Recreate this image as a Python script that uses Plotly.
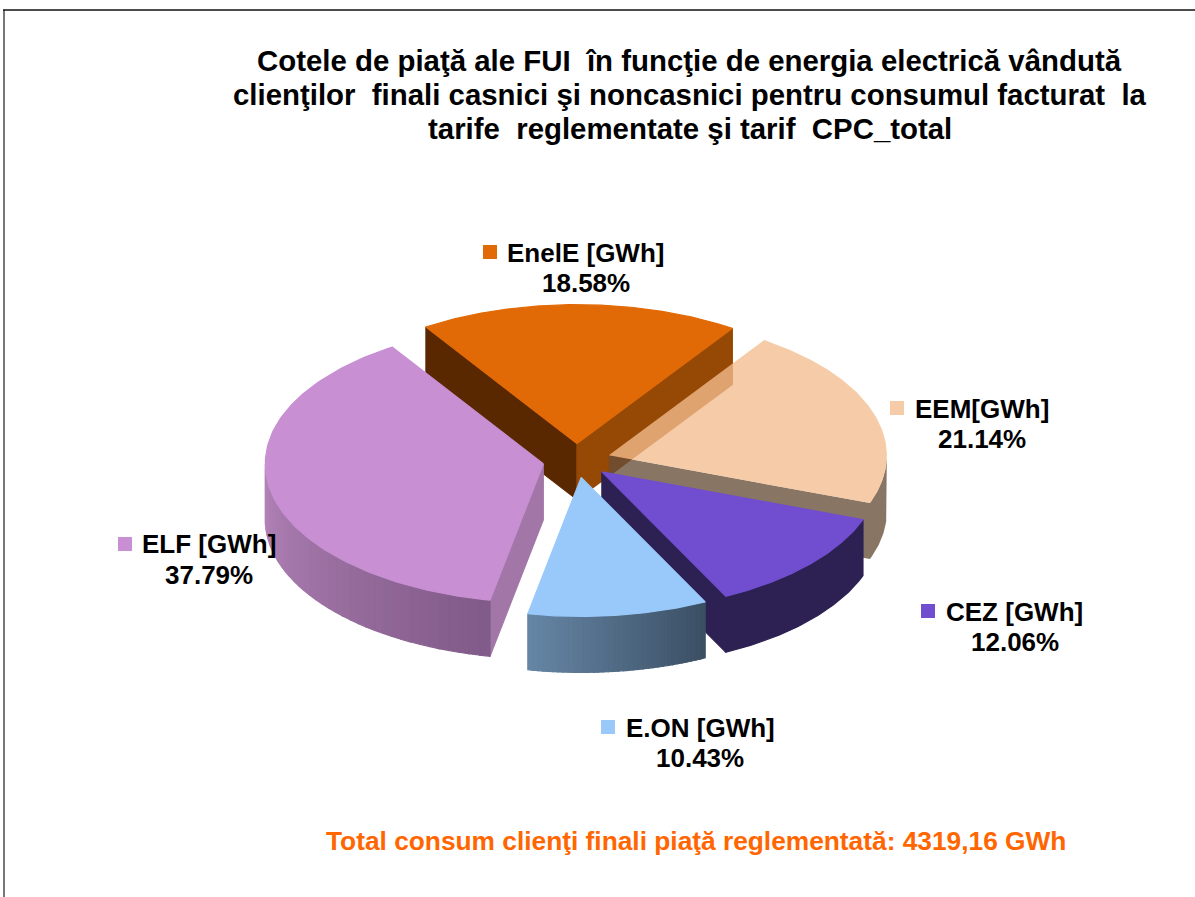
import math
import plotly.graph_objects as go

categories = ["EnelE [GWh]", "EEM[GWh]", "CEZ [GWh]", "E.ON [GWh]", "ELF [GWh]"]
shares = [18.58, 21.14, 12.06, 10.43, 37.79]
top_colors = ["#e16a07", "rgba(243,188,142,0.78)", "#714ecf", "#99c9fa", "#c88fd3"]
title_lines = [
    "Cotele de piaţă ale FUI \u00a0în funcţie de energia electrică vândută",
    "clienţilor \u00a0finali casnici şi noncasnici pentru consumul facturat \u00a0la",
    "tarife \u00a0reglementate şi tarif \u00a0CPC_total",
]
footer = "Total consum clienţi finali piaţă reglementată: 4319,16 GWh"

# layout of the pseudo-3D projection
W, H = 1195, 897
CX, CY, RX, RY, DEPTH = 576.6, 460.6, 278, 139, 56
EXPLODE = 0.122
START = 327.1
label_pos = {  # marker x,y ; name left x,y ; percent centre x,y
    "EnelE [GWh]": (490, 252, 505, 253, 586, 283),
    "EEM[GWh]": (897, 408, 913, 409, 982, 439),
    "CEZ [GWh]": (928, 611, 944, 612, 1015, 642),
    "E.ON [GWh]": (608, 727, 624, 728, 700, 758),
    "ELF [GWh]": (125, 544, 140, 544, 209, 575),
}
FS_T, FS_L, FS_F = 29.4, 26, 26.3

fig = go.Figure()


def poly(xs, ys, color, line=True):
    fig.add_trace(go.Scatter(
        x=xs + xs[:1], y=ys + ys[:1], mode="lines", fill="toself", fillcolor=color,
        line=dict(color=color if line else "rgba(0,0,0,0)", width=1.2 if line else 0),
        hoverinfo="skip", showlegend=False))


def mix(a, b, t):
    return tuple(round(a[i] + (b[i] - a[i]) * t) for i in range(3))


# slice geometry derived from the shares
spans = {}
ang = START
for cat, v in zip(categories, shares):
    spans[cat] = (ang, ang + v * 3.6)
    ang += v * 3.6


def apex(cat):
    a0, a1 = spans[cat]
    m = math.radians((a0 + a1) / 2)
    return CX + EXPLODE * RX * math.sin(m), CY - EXPLODE * RY * math.cos(m)


def rim(cat, deg):
    ax, ay = apex(cat)
    t = math.radians(deg)
    return ax + RX * math.sin(t), ay - RY * math.cos(t)


def arc(cat, d0, d1, n=60):
    pts = [rim(cat, d0 + (d1 - d0) * i / n) for i in range(n + 1)]
    return [p[0] for p in pts], [p[1] for p in pts]


def top(cat, color, line=True):
    a0, a1 = spans[cat]
    ax, ay = apex(cat)
    xs, ys = arc(cat, a0, a1, 120)
    poly([ax] + xs, [ay] + ys, color, line)


def cut_wall(cat, deg, color):
    ax, ay = apex(cat)
    x, y = rim(cat, deg)
    poly([ax, x, x, ax], [ay, y, y + DEPTH, ay + DEPTH], color)


def wall_gradient(cat, d0, d1, c0, c1, n=36):
    for i in range(n):
        a = d0 + (d1 - d0) * i / n
        b = d0 + (d1 - d0) * (i + 1) / n
        xs, ys = arc(cat, a, b, 3)
        col = "rgb(%d,%d,%d)" % mix(c0, c1, (i + .5) / n)
        poly(xs + xs[::-1], ys + [y + DEPTH for y in ys[::-1]], col)


# EnelE (back)
e = categories[0]
cut_wall(e, spans[e][0], "#5a2800")
cut_wall(e, spans[e][1], "#964805")
top(e, top_colors[0])

# ELF
f = categories[4]
cut_wall(f, spans[f][0], "#a277a8")
wall_gradient(f, 630, spans[f][0], (181, 133, 186), (128, 90, 136))
top(f, top_colors[4])

# EEM: translucent
m = categories[1]
ax, ay = apex(m)
xs, ys = arc(m, spans[m][1], 450, 30)
poly([ax] + xs + xs[::-1] + [ax], [ay] + ys + [y + DEPTH for y in ys[::-1]] + [ay + DEPTH],
     "rgba(102,78,56,0.78)", line=False)
top(m, top_colors[1], line=False)

# CEZ
c = categories[2]
cut_wall(c, spans[c][1], "#2c2152")
xs, ys = arc(c, spans[c][0], spans[c][1])
poly(xs + xs[::-1], ys + [y + DEPTH for y in ys[::-1]], "#2c2152")
top(c, top_colors[2])

# E.ON
o = categories[3]
wall_gradient(o, spans[o][1], spans[o][0], (102, 134, 166), (59, 79, 99))
top(o, top_colors[3])

# legend squares
for cat, col in zip(categories, top_colors):
    lp = label_pos[cat]
    fig.add_trace(go.Scatter(x=[lp[0]], y=[lp[1]], mode="markers",
                             marker=dict(symbol="square", size=14, color=col, line=dict(width=0)),
                             hoverinfo="skip", showlegend=False))

anns = []


def text(x, y, s, size, color="#000000", anchor="center"):
    anns.append(dict(x=x, y=y, xref="x", yref="y", text=f"<b>{s}</b>", showarrow=False,
                     xanchor=anchor, yanchor="middle",
                     font=dict(family="Liberation Sans", size=size, color=color)))


for s, y in zip(title_lines, [60, 94, 128]):
    text(689.5, y, s, FS_T)
for cat, v in zip(categories, shares):
    lp = label_pos[cat]
    text(lp[2], lp[3], cat, FS_L, anchor="left")
    text(lp[4], lp[5], f"{v:.2f}%", FS_L)
text(696, 841, footer, FS_F, color="#ff6600")

fig.update_layout(
    width=W, height=H, margin=dict(l=0, r=0, t=0, b=0),
    paper_bgcolor="white", plot_bgcolor="white", showlegend=False,
    xaxis=dict(range=[0, W], visible=False, fixedrange=True),
    yaxis=dict(range=[H, 0], visible=False, fixedrange=True),
    annotations=anns,
    shapes=[
        dict(type="line", xref="x", yref="y", x0=4, x1=4, y0=10, y1=H, line=dict(color="#777777", width=2)),
        dict(type="line", xref="x", yref="y", x0=3, x1=W, y0=10, y1=10, line=dict(color="#111111", width=1.5)),
    ],
)
fig.write_html("out.html", config=dict(displayModeBar=False),
               post_script="document.body.style.margin='0';document.body.style.overflow='hidden';")
